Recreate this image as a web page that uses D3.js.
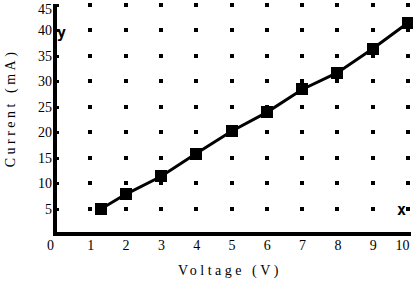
<!DOCTYPE html>
<html>
<head>
<meta charset="utf-8">
<script src="https://cdn.jsdelivr.net/npm/d3@7"></script>
<style>
  body { margin: 0; background: #fff; }
  svg { display: block; }
  .tick text { font-family: "Liberation Serif", serif; font-size: 14px; fill: #000; }
  .title { font-family: "Liberation Serif", serif; font-size: 14px; fill: #000; letter-spacing: 3.5px; }
</style>
</head>
<body>
<div id="chart"></div>
<script>
var voltage = [1.3, 2, 3, 4, 5, 6, 7, 8, 9, 10];
var current = [4.9, 7.8, 11.3, 15.8, 20.2, 23.9, 28.4, 31.7, 36.4, 41.5];
var xTicks = [0, 1, 2, 3, 4, 5, 6, 7, 8, 9, 10];
var yTicks = [5, 10, 15, 20, 25, 30, 35, 40, 45];

var w = 413, h = 283;
var svg = d3.select("#chart").append("svg")
    .attr("width", w).attr("height", h)
    .attr("shape-rendering", "crispEdges");

var x = d3.scaleLinear().domain([0, 10]).range([55, 408]);
var y = d3.scaleLinear().domain([0, 45]).range([234, 5]);

// grid dots at each integer volt / every 5 mA (row 0 sits on the axis as ticks)
var dots = [];
xTicks.slice(1).forEach(function(xv) {
    [0].concat(yTicks).forEach(function(yv) { dots.push([xv, yv]); });
});
svg.selectAll("rect.dot")
    .data(dots)
    .enter().append("rect")
    .attr("class", "dot")
    .attr("x", function(d) { return Math.round(x(d[0])) - 2; })
    .attr("y", function(d) { return Math.round(y(d[1])) - 2; })
    .attr("width", 4).attr("height", 4)
    .attr("fill", "#000");

// axes
var xAxis = svg.append("g")
    .attr("transform", "translate(0," + y(0) + ")")
    .call(d3.axisBottom(x).tickValues(xTicks).tickSize(0).tickPadding(6));
var yAxis = svg.append("g")
    .attr("transform", "translate(" + x(0) + ",0)")
    .call(d3.axisLeft(y).tickValues(yTicks).tickSize(-4).tickPadding(3));

svg.selectAll(".domain").remove();
yAxis.selectAll(".tick line").attr("stroke", "#000").attr("stroke-width", 3);
yAxis.selectAll(".tick text")
    .attr("dy", function(d) { return d === 45 ? "0.62em" : "0.32em"; });
xAxis.selectAll(".tick text")
    .attr("dx", function(d) { return d === 0 ? -5 : d === 10 ? -6 : 0; });

svg.append("line")
    .attr("x1", x(0)).attr("x2", x(0) )
    .attr("y1", y(45) - 1).attr("y2", y(0) + 2)
    .attr("stroke", "#000").attr("stroke-width", 4);
svg.append("line")
    .attr("x1", x(0) - 2).attr("x2", x(10) + 3)
    .attr("y1", y(0)).attr("y2", y(0))
    .attr("stroke", "#000").attr("stroke-width", 4);

// data line and markers
var pts = voltage.map(function(v, i) { return [v, current[i]]; });
svg.append("path")
    .datum(pts)
    .attr("d", d3.line().x(function(d) { return x(d[0]); }).y(function(d) { return y(d[1]); }))
    .attr("fill", "none")
    .attr("stroke", "#000")
    .attr("stroke-width", 3)
    .attr("shape-rendering", "auto");
svg.selectAll("rect.pt")
    .data(pts)
    .enter().append("rect")
    .attr("class", "pt")
    .attr("x", function(d) { return Math.round(x(d[0])) - 6; })
    .attr("y", function(d) { return Math.round(y(d[1])) - 6; })
    .attr("width", 12).attr("height", 12)
    .attr("fill", "#000");

// calculator style x / y markers
svg.append("text")
    .attr("x", x(0) + 2).attr("y", y(40) + 8)
    .attr("font-family", "DejaVu Sans Mono, monospace")
    .attr("font-weight", "bold").attr("font-size", "15px")
    .text("y");
svg.append("text")
    .attr("x", x(10) - 11).attr("y", y(5) + 6)
    .attr("font-family", "DejaVu Sans Mono, monospace")
    .attr("font-weight", "bold").attr("font-size", "15px")
    .text("x");

// titles
svg.append("text")
    .attr("class", "title")
    .attr("x", 230).attr("y", 275)
    .attr("text-anchor", "middle")
    .text("Voltage (V)");
svg.append("text")
    .attr("class", "title")
    .attr("transform", "translate(15,108) rotate(-90)")
    .attr("text-anchor", "middle")
    .text("Current (mA)");
</script>
</body>
</html>
